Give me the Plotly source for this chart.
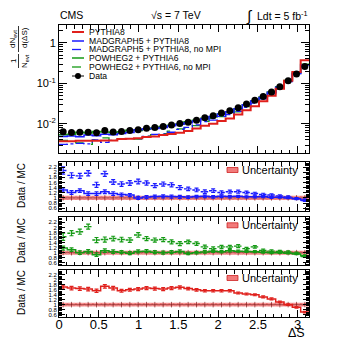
import numpy as np
import plotly.graph_objects as go

# 30 bins of Delta S between 0 and pi
n_bins = 30
edges = np.linspace(0, np.pi, n_bins + 1)
centers = (edges[:-1] + edges[1:]) / 2

# normalised distributions (main panel)
data_vals = [0.0064, 0.0061, 0.0062, 0.0062, 0.0060, 0.0068, 0.0063, 0.0065, 0.0068, 0.0071,
             0.0078, 0.0081, 0.0086, 0.0094, 0.0102, 0.0110, 0.0123, 0.0141, 0.0158, 0.0184,
             0.021, 0.025, 0.031, 0.038, 0.047, 0.061, 0.082, 0.115, 0.17, 0.26]
pythia8 = [0.0037, 0.0037, 0.0038, 0.0038, 0.0038, 0.0039, 0.0039, 0.0042, 0.0043, 0.0044,
           0.0047, 0.0049, 0.0053, 0.0056, 0.0060, 0.0067, 0.0077, 0.0090, 0.0101, 0.0118,
           0.0135, 0.0170, 0.0217, 0.0271, 0.0359, 0.0496, 0.074, 0.115, 0.191, 0.371]
madgraph = [0.0049, 0.0050, 0.0048, 0.0053, 0.0051, 0.0055, 0.0054, 0.0058, 0.0061, 0.0071,
            0.0076, 0.0077, 0.0081, 0.0090, 0.0098, 0.0107, 0.0117, 0.0133, 0.0152, 0.0174,
            0.0200, 0.0236, 0.0298, 0.0365, 0.0448, 0.0598, 0.080, 0.115, 0.175, 0.283]
madgraph_nompi = [0.0031, 0.0032, 0.0033, 0.0032, 0.0040, 0.0035, 0.0039, 0.0042, 0.0043, 0.0043,
                  0.0049, 0.0055, 0.0056, 0.0062, 0.0073, 0.0082, 0.0094, 0.0114, 0.0123, 0.0152,
                  0.0169, 0.0202, 0.0256, 0.0325, 0.0416, 0.0550, 0.076, 0.111, 0.175, 0.289]
powheg = [0.0054, 0.0055, 0.0062, 0.0059, 0.0065, 0.0063, 0.0061, 0.0064, 0.0069, 0.0068,
          0.0074, 0.0079, 0.0086, 0.0092, 0.0097, 0.0113, 0.0123, 0.0137, 0.0149, 0.0177,
          0.0194, 0.0236, 0.0295, 0.0365, 0.0461, 0.0610, 0.082, 0.117, 0.179, 0.295]
powheg_nompi = [0.0039, 0.0035, 0.0034, 0.0031, 0.0040, 0.0045, 0.0040, 0.0043, 0.0045, 0.0042,
                0.0050, 0.0054, 0.0057, 0.0066, 0.0075, 0.0077, 0.0090, 0.0115, 0.0136, 0.0150,
                0.0171, 0.0198, 0.0267, 0.0309, 0.0431, 0.0576, 0.078, 0.112, 0.174, 0.306]

# Data / MC ratios (lower panels)
ratio_madgraph = [1.31, 1.21, 1.28, 1.17, 1.17, 1.24, 1.17, 1.13, 1.11, 1.00,
                  1.03, 1.05, 1.06, 1.05, 1.04, 1.03, 1.05, 1.06, 1.04, 1.06,
                  1.05, 1.06, 1.04, 1.04, 1.05, 1.02, 1.02, 1.00, 0.97, 0.92]
ratio_madgraph_nompi = [2.07, 1.88, 1.86, 1.96, 1.51, 1.94, 1.62, 1.54, 1.58, 1.64,
                        1.58, 1.48, 1.54, 1.51, 1.40, 1.35, 1.31, 1.24, 1.28, 1.21,
                        1.24, 1.24, 1.21, 1.17, 1.13, 1.11, 1.08, 1.04, 0.97, 0.90]
ratio_powheg = [1.18, 1.12, 1.00, 1.05, 0.92, 1.08, 1.04, 1.02, 0.98, 1.05,
                1.06, 1.02, 1.00, 1.02, 1.05, 0.97, 1.00, 1.03, 1.06, 1.04,
                1.08, 1.06, 1.05, 1.04, 1.02, 1.00, 1.00, 0.98, 0.95, 0.88]
ratio_powheg_nompi = [1.63, 1.77, 1.83, 2.03, 1.50, 1.52, 1.56, 1.52, 1.50, 1.70,
                      1.56, 1.50, 1.52, 1.43, 1.36, 1.43, 1.36, 1.23, 1.16, 1.23,
                      1.23, 1.26, 1.16, 1.23, 1.09, 1.06, 1.05, 1.03, 0.98, 0.85]
ratio_pythia8 = [1.71, 1.67, 1.65, 1.63, 1.56, 1.74, 1.67, 1.56, 1.60, 1.63,
                 1.67, 1.65, 1.63, 1.67, 1.70, 1.65, 1.60, 1.56, 1.56, 1.56,
                 1.56, 1.47, 1.43, 1.40, 1.31, 1.23, 1.11, 1.00, 0.89, 0.70]
err_mpi = [0.08, 0.07, 0.07, 0.07, 0.07, 0.07, 0.07, 0.06, 0.06, 0.06,
           0.06, 0.06, 0.06, 0.06, 0.06, 0.05, 0.05, 0.05, 0.05, 0.05,
           0.05, 0.04, 0.04, 0.04, 0.04, 0.04, 0.03, 0.03, 0.03, 0.03]
err_nompi = [0.14, 0.10, 0.10, 0.10, 0.10, 0.10, 0.09, 0.09, 0.09, 0.09,
             0.08, 0.08, 0.08, 0.08, 0.08, 0.07, 0.07, 0.07, 0.07, 0.06,
             0.06, 0.06, 0.05, 0.05, 0.05, 0.05, 0.04, 0.04, 0.04, 0.04]
unc_half = 0.08

RED = "#e0201c"
BLUE = "#1a1aff"
GREEN = "#159a15"
FONT = "Liberation Sans, Arial, sans-serif"

# plot area in page pixels; the page body adds an 8px margin
L, R, T, B = 59, 309, 25, 317
OFF = 8
def px(x):
    return (x - L) / (R - L)
def py(y):
    return (B - y) / (B - T)

fig = go.Figure()

def step(vals, color, dash, width, xa, ya):
    fig.add_trace(go.Scatter(x=list(edges), y=list(vals) + [vals[-1]], mode="lines",
                             line=dict(color=color, dash=dash, width=width, shape="hv"),
                             xaxis=xa, yaxis=ya, showlegend=False, hoverinfo="skip"))

# main panel
step(powheg_nompi, GREEN, "dash", 1.3, "x", "y")
step(powheg, GREEN, "solid", 1.5, "x", "y")
step(madgraph_nompi, BLUE, "dashdot", 1.3, "x", "y")
step(madgraph, BLUE, "solid", 1.5, "x", "y")
step(pythia8, RED, "solid", 2, "x", "y")
fig.add_trace(go.Scatter(x=centers, y=data_vals, mode="markers",
                         marker=dict(color="black", size=7), showlegend=False))

panels = [
    ("y2", "x2", [(ratio_madgraph, BLUE, False), (ratio_madgraph_nompi, BLUE, True)]),
    ("y3", "x3", [(ratio_powheg, GREEN, False), (ratio_powheg_nompi, GREEN, True)]),
    ("y4", "x4", [(ratio_pythia8, RED, False)]),
]

for ya, xa, series in panels:
    # uncertainty band
    fig.add_trace(go.Scatter(x=[0, np.pi, np.pi, 0, 0],
                             y=[1 - unc_half, 1 - unc_half, 1 + unc_half, 1 + unc_half, 1 - unc_half],
                             mode="lines", fill="toself", line=dict(width=0),
                             fillcolor="rgba(240,100,100,0.8)",
                             fillpattern=dict(shape="x", fgcolor="rgba(200,20,20,0.9)",
                                              bgcolor="rgba(245,125,125,0.8)", size=3, solidity=0.3),
                             xaxis=xa, yaxis=ya, showlegend=False, hoverinfo="skip"))
    fig.add_trace(go.Scatter(x=centers, y=[1] * n_bins, mode="lines+markers",
                             line=dict(color="rgba(120,20,20,0.8)", width=0.7),
                             marker=dict(symbol="line-ns-open", size=4,
                                         line=dict(color="rgba(60,0,0,0.8)", width=0.8)),
                             xaxis=xa, yaxis=ya, showlegend=False, hoverinfo="skip"))
    for vals, color, nompi in series:
        if nompi:
            xs, ys = [], []
            for i in range(n_bins):
                xs += [edges[i], edges[i + 1], None]
                ys += [vals[i], vals[i], None]
            fig.add_trace(go.Scatter(x=xs, y=ys, mode="lines",
                                     line=dict(color=color, width=1.4, dash="3px,1.5px"),
                                     xaxis=xa, yaxis=ya, showlegend=False, hoverinfo="skip"))
            err = err_nompi
        else:
            step(vals, color, "solid", 1.5, xa, ya)
            err = err_mpi
        fig.add_trace(go.Scatter(x=centers, y=vals, mode="markers",
                                 marker=dict(size=1, color=color),
                                 error_y=dict(type="data", array=err, color=color,
                                              thickness=1.2, width=2),
                                 xaxis=xa, yaxis=ya, showlegend=False, hoverinfo="skip"))

axis_common = dict(range=[0, np.pi], showline=True, linecolor="black", linewidth=1,
                   mirror="allticks", ticks="inside", ticklen=7, tickcolor="black",
                   dtick=0.5, tick0=0, showgrid=False, zeroline=False,
                   minor=dict(ticks="inside", ticklen=3.5, dtick=0.1, tickcolor="black"))

minor_log = [k * 10.0 ** e for e in (-3, -2, -1, 0) for k in range(2, 10)]

fig.update_layout(
    width=346, height=346,
    margin=dict(l=L - OFF, r=346 - R + OFF, t=T - OFF, b=346 - B + OFF),
    paper_bgcolor="white", plot_bgcolor="white",
    font=dict(family=FONT, color="black"),
    showlegend=False,
    xaxis=dict(axis_common, domain=[0, 1], anchor="y", showticklabels=False),
    xaxis2=dict(axis_common, domain=[0, 1], anchor="y2", matches="x", showticklabels=False),
    xaxis3=dict(axis_common, domain=[0, 1], anchor="y3", matches="x", showticklabels=False),
    xaxis4=dict(axis_common, domain=[0, 1], anchor="y4", matches="x",
                tickfont=dict(size=13), tickvals=[0, 0.5, 1, 1.5, 2, 2.5, 3],
                ticktext=["0", "0.5", "1", "1.5", "2", "2.5", "3"],
                ticklabelstandoff=-5),
    yaxis=dict(type="log", range=[-2.72, 0.44], domain=[py(153), 1], anchor="x",
               showline=True, linecolor="black", linewidth=1, mirror="allticks",
               ticks="inside", ticklen=8, tickcolor="black", showgrid=False,
               tickvals=[0.01, 0.1, 1], ticktext=["10<sup>-2</sup>", "10<sup>-1</sup>", "1"],
               tickfont=dict(size=11),
               minor=dict(ticks="inside", ticklen=4, tickvals=minor_log, tickcolor="black")),
)

ratio_axis = dict(range=[0.5, 2.4], showline=True, linecolor="black", linewidth=1,
                  mirror="allticks", ticks="inside", ticklen=6, tickcolor="black",
                  showgrid=False, zeroline=False,
                  tickvals=[0.6, 0.8, 1, 1.2, 1.4, 1.6, 1.8, 2, 2.2],
                  ticktext=["0.6", "0.8", "1", "1.2", "1.4", "1.6", "1.8", "2", "2.2"],
                  tickfont=dict(size=6),
                  minor=dict(ticks="inside", ticklen=3, dtick=0.05, tick0=0, tickcolor="black"))
fig.update_layout(
    yaxis2=dict(ratio_axis, domain=[py(210.7), py(162)], anchor="x2"),
    yaxis3=dict(ratio_axis, domain=[py(265.3), py(217.3)], anchor="x3"),
    yaxis4=dict(ratio_axis, domain=[0, py(270)], anchor="x4"),
)

ann = []
shapes = []
def text(x, y, s, size, xanchor="left", angle=0):
    ann.append(dict(x=px(x), y=py(y), xref="paper", yref="paper", text=s, showarrow=False,
                    xanchor=xanchor, yanchor="middle", textangle=angle,
                    font=dict(size=size, family=FONT, color="black")))

# header
text(58, 15, "CMS", 10.5)
text(149, 15, "√s = 7 TeV", 10.5)
text(244, 16, "∫", 15)
text(255, 15, "Ldt = 5 fb<sup>-1</sup>", 10.5)

# main legend
legend_rows = [
    ("PYTHIA8", RED, "solid", 2),
    ("MADGRAPH5 + PYTHIA8", BLUE, "solid", 1.5),
    ("MADGRAPH5 + PYTHIA8, no MPI", BLUE, "dashdot", 1.3),
    ("POWHEG2 + PYTHIA6", GREEN, "solid", 1.5),
    ("POWHEG2 + PYTHIA6, no MPI", GREEN, "dash", 1.3),
]
row_y = [32, 41, 49.5, 58, 67, 76]
for (name, color, dash, w), yy in zip(legend_rows, row_y):
    shapes.append(dict(type="line", xref="paper", yref="paper", x0=px(72), x1=px(84),
                       y0=py(yy), y1=py(yy), line=dict(color=color, dash=dash, width=w)))
    text(87, yy, name, 8.6)
shapes.append(dict(type="line", xref="paper", yref="paper", x0=px(72), x1=px(84),
                   y0=py(row_y[5]), y1=py(row_y[5]), line=dict(color="black", width=1)))
shapes.append(dict(type="circle", xref="paper", yref="paper", x0=px(75), x1=px(81),
                   y0=py(row_y[5] + 3), y1=py(row_y[5] - 3), fillcolor="black",
                   line=dict(color="black", width=0)))
text(87, row_y[5], "Data", 8.6)

# y titles
text(13, 61, "1", 8, "center", -90)
text(25, 61, "N<sub>evt</sub>", 8, "center", -90)
text(13, 39, "dN<sub>evt</sub>", 8, "center", -90)
text(25, 38, "d(ΔS)", 8, "center", -90)
for y0, y1 in [(54, 68), (26, 52)]:
    shapes.append(dict(type="line", xref="paper", yref="paper", x0=px(18.5), x1=px(18.5),
                       y0=py(y0), y1=py(y1), line=dict(color="black", width=0.8)))
for yc in [186, 241, 293]:
    text(21, yc, "Data / MC", 10, "center", -90)

# uncertainty legends in ratio panels
for ytop in [162, 217.3, 270]:
    yy = ytop + 8
    shapes.append(dict(type="rect", xref="paper", yref="paper", x0=px(227), x1=px(238),
                       y0=py(yy + 2.5), y1=py(yy - 2.5), fillcolor="rgba(240,100,100,0.85)",
                       line=dict(color="rgba(200,20,20,0.9)", width=0.8)))
    text(240, yy, "Uncertainty", 11)

text(307, 333, "ΔS", 12.5, "right")

fig.update_layout(annotations=ann, shapes=shapes)
fig.write_html("out.html")
